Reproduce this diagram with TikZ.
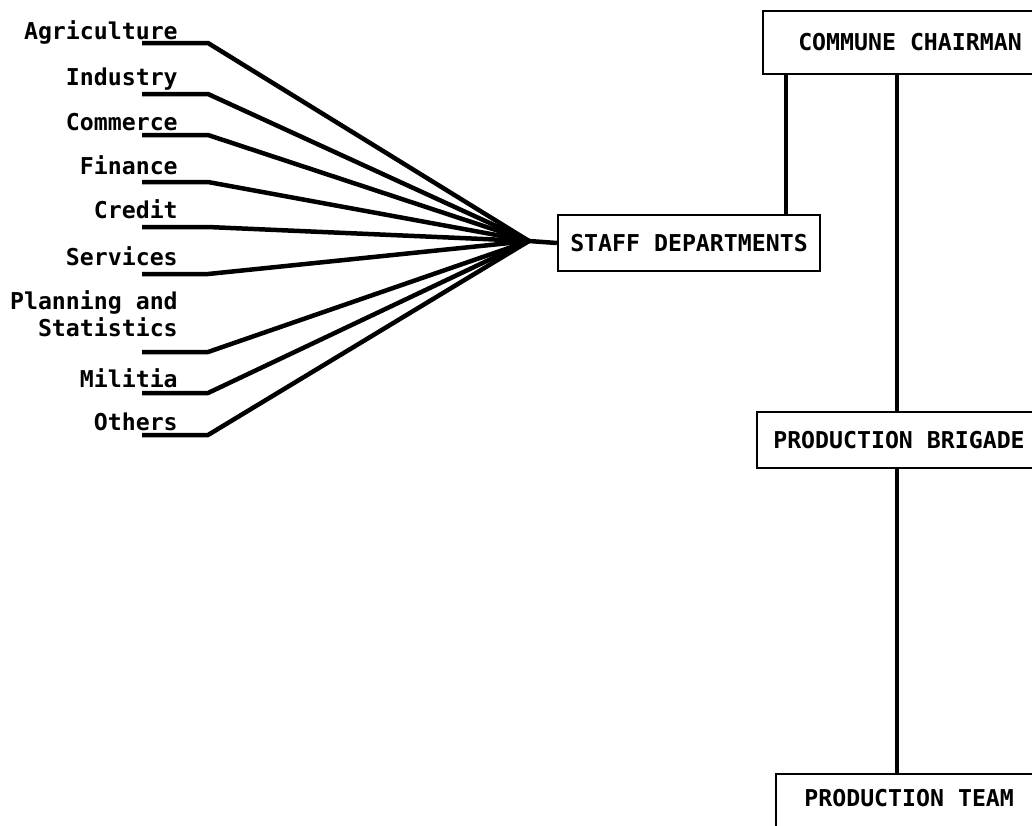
\documentclass[tikz,border=0pt]{standalone}
\usepackage{fontspec}
\setmonofont{DejaVu Sans Mono}
\begin{document}
\begin{tikzpicture}
  [x=0.025cm, y=-0.025cm,
   font=\ttfamily\bfseries\fontsize{16.5}{19}\selectfont,
   unit/.style={draw=black, line width=1.6pt, inner sep=0pt, minimum height=1.4cm},
   item/.style={inner sep=0pt, anchor=base east},
   fan/.style={line width=3.2pt, line join=round},
   link/.style={line width=2.8pt}]

  \useasboundingbox (0,0) rectangle (1032,825);

  % organisation boxes
  \node[unit, minimum width=7.35cm, minimum height=1.575cm] (chair) at (910,42.5) {COMMUNE CHAIRMAN};
  \node[unit, minimum width=6.55cm] (staff) at (689,243) {STAFF DEPARTMENTS};
  \node[unit, minimum width=7.1cm] (brigade) at (899,440) {PRODUCTION BRIGADE};
  \node[unit, minimum width=6.65cm, minimum height=0pt, text height=0.8cm, text depth=0.6cm,
        anchor=north west] (team) at (775,773) {PRODUCTION TEAM};

  \coordinate (tap1) at (786,0);
  \coordinate (tap2) at (897,0);
  \draw[link] (tap1 |- chair.south) -- (tap1 |- staff.north);
  \draw[link] (tap2 |- chair.south) -- (tap2 |- brigade.north);
  \draw[link] (tap2 |- brigade.south) -- (tap2 |- team.north);

  % fan of departments
  \coordinate (hub) at (529,241);
  \draw[fan] (hub) -- (staff.west);

  \foreach \name/\txt/\base/\under in {agr/Agriculture/39/43, ind/Industry/85/94,
      com/Commerce/130/135, fin/Finance/174/182, cre/Credit/218/227,
      ser/Services/265/274, mil/Militia/387/393, oth/Others/430/435}
  {
    \node[item] (\name) at (178,\base) {\txt};
    \draw[fan] (142,\under) -- (208,\under) -- (hub);
  }
  \node[item, anchor=south east, align=right] (pla) at (178,337) {Planning and\\Statistics};
  \draw[fan] (142,352) -- (208,352) -- (hub);
\end{tikzpicture}
\end{document}
